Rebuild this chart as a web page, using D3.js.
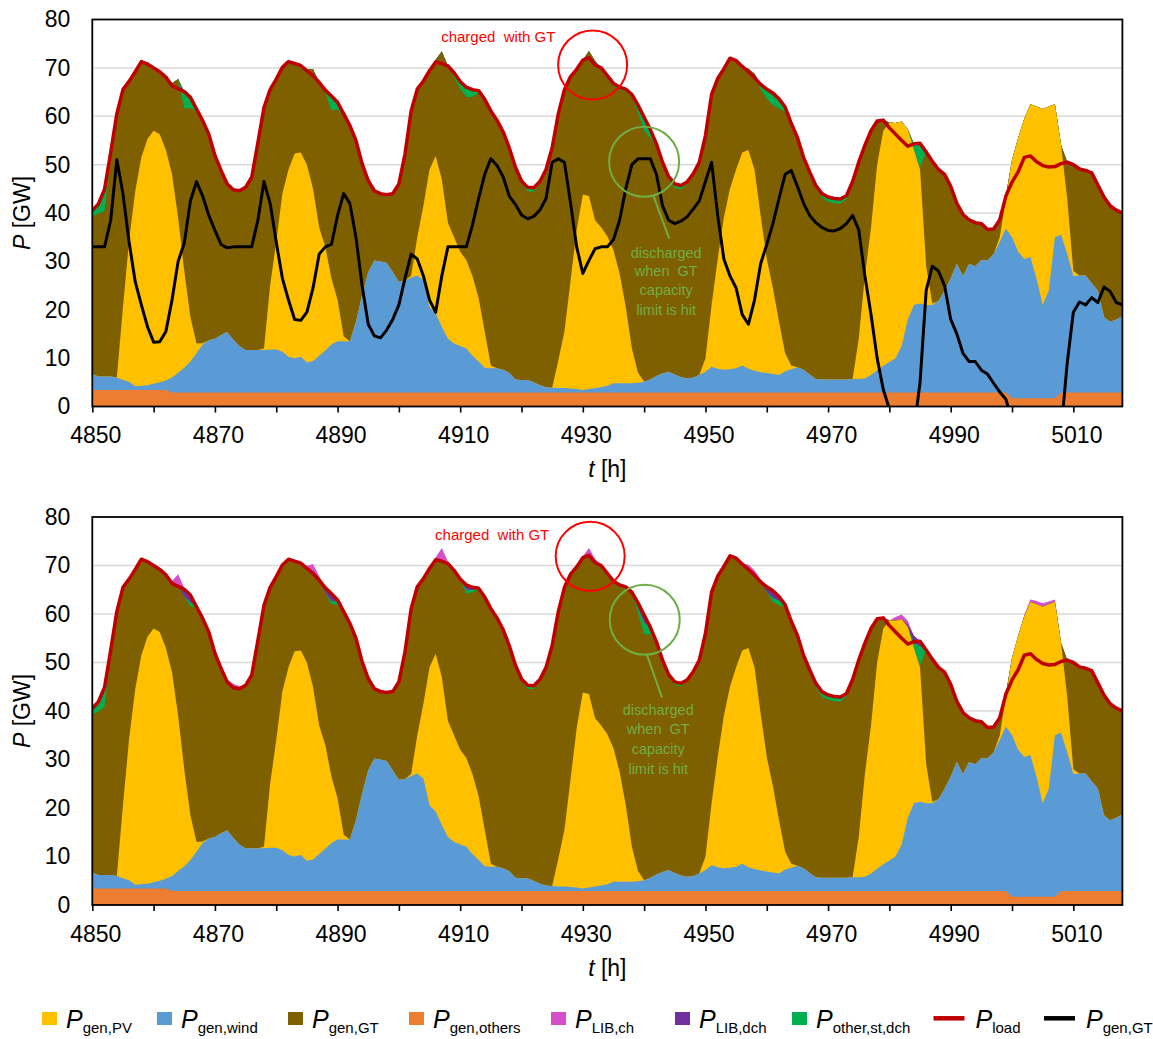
<!DOCTYPE html>
<html>
<head>
<meta charset="utf-8">
<title>Power balance, hours 4850-5018</title>
<script src="https://cdn.jsdelivr.net/npm/d3@7/dist/d3.min.js"></script>
<style>
  html, body { margin: 0; padding: 0; background: #fff; }
  svg { display: block; }
  text { font-family: "Liberation Sans", Arial, Helvetica, sans-serif; }
</style>
</head>
<body>
<svg id="chart" width="1153" height="1039"></svg>
<script>
// ---------------- categories and ticks ----------------
const HOURS = d3.range(4850, 5019);          // hourly time steps t [h]
const X_TICKS = d3.range(4850, 5019, 10);
const X_LABELS = d3.range(4850, 5011, 20);
const Y_TICKS = d3.range(0, 81, 10);

// ---------------- hourly series [GW] ----------------
const pLoad = [
  40.5, 41.9, 44.9, 52.5, 60.5, 65.5, 67.2, 69.2, 71.3, 70.8,
  70.0, 69.2, 68.1, 66.3, 65.7, 65.1, 63.9, 61.5, 59.1, 56.3,
  51.9, 48.8, 46.0, 44.8, 44.6, 45.3, 47.4, 54.5, 61.8, 65.5,
  67.7, 70.1, 71.3, 70.9, 70.5, 69.4, 68.4, 67.0, 65.4, 64.2,
  62.9, 60.5, 58.1, 55.0, 50.2, 46.7, 44.6, 44.0, 43.8, 44.0,
  46.0, 52.2, 61.1, 65.6, 67.3, 69.4, 71.2, 70.9, 70.4, 69.0,
  67.2, 66.0, 65.5, 65.3, 63.5, 61.1, 59.2, 56.8, 53.5, 49.5,
  46.6, 45.3, 45.2, 46.5, 49.0, 53.5, 60.5, 65.5, 68.2, 69.7,
  71.6, 72.1, 70.6, 70.0, 68.4, 66.8, 66.0, 65.6, 64.5, 62.3,
  59.8, 57.3, 54.3, 50.5, 47.5, 46.0, 45.7, 46.4, 48.1, 50.5,
  56.0, 64.5, 67.8, 69.8, 72.0, 71.5, 70.3, 69.2, 68.0, 66.6,
  65.6, 64.8, 63.6, 61.9, 58.5, 55.6, 51.5, 48.5, 45.7, 44.0,
  43.3, 43.0, 42.9, 43.6, 46.5, 50.5, 54.0, 57.0, 59.0, 59.2,
  57.6, 56.3, 55.0, 53.8, 54.3, 54.4, 52.6, 50.7, 49.0, 48.0,
  45.5, 42.0, 39.7, 38.6, 38.0, 37.8, 36.6, 36.7, 38.6, 43.5,
  46.4, 48.5, 51.5, 51.8, 50.6, 49.8, 49.5, 49.6, 50.2, 50.5,
  50.0, 49.1, 48.8, 48.3, 45.8, 43.3, 41.5, 40.6, 40.0
];

const pOthers = [
  3.4, 3.4, 3.4, 3.4, 3.4, 3.4, 3.4, 3.4, 3.4, 3.4,
  3.4, 3.4, 3.4, 2.9, 2.9, 2.9, 2.9, 2.9, 2.9, 2.9,
  2.9, 2.9, 2.9, 2.9, 2.9, 2.9, 2.9, 2.9, 2.9, 2.9,
  2.9, 2.9, 2.9, 2.9, 2.9, 2.9, 2.9, 2.9, 2.9, 2.9,
  2.9, 2.9, 2.9, 2.9, 2.9, 2.9, 2.9, 2.9, 2.9, 2.9,
  2.9, 2.9, 2.9, 2.9, 2.9, 2.9, 2.9, 2.9, 2.9, 2.9,
  2.9, 2.9, 2.9, 2.9, 2.9, 2.9, 2.9, 2.9, 2.9, 2.9,
  2.9, 2.9, 2.9, 2.9, 2.9, 2.9, 2.9, 2.9, 2.9, 2.9,
  2.9, 2.9, 2.9, 2.9, 2.9, 2.9, 2.9, 2.9, 2.9, 2.9,
  2.9, 2.9, 2.9, 2.9, 2.9, 2.9, 2.9, 2.9, 2.9, 2.9,
  2.9, 2.9, 2.9, 2.9, 2.9, 2.9, 2.9, 2.9, 2.9, 2.9,
  2.9, 2.9, 2.9, 2.9, 2.9, 2.9, 2.9, 2.9, 2.9, 2.9,
  2.9, 2.9, 2.9, 2.9, 2.9, 2.9, 2.9, 2.9, 2.9, 2.9,
  2.9, 2.9, 2.9, 2.9, 2.9, 2.9, 2.9, 2.9, 2.9, 2.9,
  2.9, 2.9, 2.9, 2.9, 2.9, 2.9, 2.9, 2.9, 2.9, 2.9,
  1.7, 1.7, 1.7, 1.7, 1.7, 1.7, 1.7, 1.7, 2.9, 2.9,
  2.9, 2.9, 2.9, 2.9, 2.9, 2.9, 2.9, 2.9, 2.9
];

const pWind = [
  3.3, 2.8, 2.8, 2.8, 2.6, 2.1, 1.7, 0.8, 0.9, 1.0,
  1.3, 1.6, 2.0, 3.1, 4.1, 5.1, 6.4, 8.1, 9.9, 10.8,
  11.1, 11.9, 12.5, 10.9, 9.6, 8.8, 8.8, 8.8, 8.8, 8.9,
  8.9, 8.4, 7.4, 7.1, 7.4, 6.2, 6.5, 7.6, 8.7, 9.9,
  10.6, 10.6, 10.6, 14.6, 20.1, 24.9, 27.3, 27.1, 26.8, 24.9,
  22.9, 23.1, 23.7, 24.2, 23.2, 17.6, 16.4, 13.6, 11.1, 10.1,
  9.6, 9.1, 7.6, 6.4, 5.1, 5.0, 5.0, 4.7, 4.1, 2.7,
  2.6, 2.6, 2.1, 1.5, 1.1, 1.0, 0.9, 0.9, 0.8, 0.7,
  0.5, 0.7, 0.9, 1.1, 1.4, 1.9, 1.9, 1.9, 1.9, 2.0,
  2.2, 2.7, 3.4, 3.9, 4.3, 3.7, 3.2, 2.9, 3.1, 3.6,
  4.3, 5.3, 4.9, 4.7, 4.8, 5.0, 5.6, 4.9, 4.5, 4.2,
  4.0, 3.8, 3.6, 4.4, 4.8, 5.2, 4.7, 3.7, 2.8, 2.7,
  2.7, 2.7, 2.7, 2.7, 2.8, 2.8, 2.9, 3.6, 4.6, 5.5,
  6.3, 7.1, 9.6, 15.1, 18.1, 18.4, 18.1, 18.1, 18.9, 21.1,
  23.6, 26.6, 24.1, 26.6, 26.1, 27.4, 27.3, 28.6, 31.1, 33.9,
  33.3, 30.3, 28.8, 29.2, 24.7, 19.3, 22.3, 33.3, 32.6, 28.6,
  24.1, 24.2, 24.2, 22.6, 21.1, 15.6, 14.6, 15.1, 15.8
];

const pPV = [
  0, 0, 0, 0, 0, 15.0, 29.2, 40.3, 47.2, 50.9,
  52.3, 51.3, 47.6, 42.0, 32.0, 20.0, 9.2, 2.0, 0.3, 0,
  0, 0, 0, 0, 0, 0, 0, 0, 0.3, 13.2,
  22.2, 32.7, 38.7, 42.3, 42.2, 40.9, 35.6, 26.5, 21.4, 13.7,
  8.5, 1.0, 0, 0, 0, 0, 0, 0, 0, 0,
  0, 0, 0.4, 7.9, 15.4, 28.5, 32.5, 30.5, 24.0, 22.0,
  19.5, 18.3, 16.5, 13.2, 7.5, 0.6, 0, 0, 0, 0,
  0, 0, 0, 0, 0, 0, 5.7, 11.7, 22.3, 32.9,
  40.4, 39.9, 34.7, 33.0, 30.9, 27.5, 22.7, 15.8, 7.2, 2.1,
  0, 0, 0, 0, 0, 0, 0, 0, 0, 0,
  2.8, 12.8, 22.7, 31.4, 37.3, 41.1, 44.0, 45.2, 41.6, 32.4,
  23.6, 17.8, 11.0, 3.7, 0.8, 0, 0, 0, 0, 0,
  0, 0, 0, 0, 0, 8.3, 21.2, 30.5, 42.5, 48.6,
  49.5, 48.6, 46.4, 39.3, 32.0, 27.7, 8.0, 0.3, 0, 0,
  0, 0, 0, 0, 0, 0, 0, 0, 1.0, 6.2,
  16.0, 23.5, 29.0, 31.6, 35.6, 40.5, 38.0, 27.5, 18.5, 11.5,
  1.0, 0, 0, 0, 0, 0, 0, 0, 0
];

// gas turbine output of the first case (negative values fall below the axis)
const pGenGT = [
  33.0, 33.0, 33.0, 38.5, 51.0, 44.0, 34.0, 25.8, 21.0, 16.5,
  13.3, 13.4, 15.5, 22.0, 30.0, 33.8, 42.5, 46.5, 43.5, 39.5,
  36.4, 33.5, 32.8, 33.0, 33.0, 33.0, 33.0, 38.5, 46.5, 42.0,
  34.0, 26.5, 22.0, 18.0, 17.8, 19.5, 24.5, 31.5, 33.0, 33.5,
  39.5, 44.0, 42.0, 35.0, 25.0, 17.0, 14.6, 14.2, 15.8, 18.0,
  21.0, 26.5, 31.5, 30.5, 27.0, 22.0, 19.5, 27.0, 33.0, 33.0,
  33.0, 33.0, 37.5, 43.0, 48.0, 51.2, 49.8, 47.5, 43.5, 41.8,
  39.6, 38.8, 39.3, 40.6, 43.0, 50.5, 51.2, 50.5, 42.0, 33.0,
  27.5, 30.2, 32.6, 33.0, 33.0, 34.5, 38.5, 45.0, 50.0, 51.2,
  51.2, 51.2, 48.0, 41.5, 38.5, 37.8, 38.3, 39.2, 40.8, 42.5,
  46.5, 50.5, 39.5, 30.5, 27.0, 24.5, 19.0, 17.0, 22.0, 29.5,
  33.5, 37.8, 43.0, 48.0, 48.8, 45.5, 42.0, 39.5, 38.0, 37.0,
  36.4, 36.3, 36.8, 37.8, 39.5, 36.5, 27.0, 19.0, 10.0, 3.5,
  -0.5, -3.0, -4.0, -4.5, -5.0, 5.0, 24.0, 29.0, 28.0, 25.0,
  18.0, 15.0, 11.0, 9.3, 9.3, 7.5, 6.7, 4.8, 3.0, 1.5,
  -3.0, -6.0, -8.0, -10.0, -11.0, -11.5, -12.0, -12.5, -5.0, 9.0,
  19.5, 21.6, 21.0, 22.5, 21.5, 24.7, 23.8, 21.5, 21.0
];

// ---------------- storage flows [hour, GW] (all other hours are zero) ----------------
// case 1: storage charged with gas turbine power, other storage discharge
const gtCharge1 = [[4863,0.5],[4864,2.0],[4885,0.3],[4886,1.3],[4906,0.5],[4907,2.5],
  [4931,1.4],[4932,0.8],[4957,0.6],[4958,0.8]];
const stDch1 = [[4850,1.2],[4851,2.0],[4852,4.5],[4853,1.0],[4854,0.5],[4855,0.3],
  [4865,3.5],[4866,2.2],[4867,0.5],[4868,0.3],[4869,0.3],
  [4876,0.5],[4877,0.4],[4878,0.3],
  [4888,0.5],[4889,3.0],[4890,1.5],[4891,0.5],[4892,0.3],
  [4901,0.3],[4902,0.3],
  [4909,1.0],[4910,1.5],[4911,2.0],[4912,1.5],[4913,0.5],[4914,0.3],[4915,0.3],[4916,0.3],[4917,0.3],
  [4920,0.5],[4921,0.8],[4922,0.8],[4923,0.5],[4926,0.3],[4927,0.3],
  [4933,0.5],[4934,0.5],[4935,0.5],[4936,0.5],[4937,0.5],
  [4938,0.6],[4939,1.5],[4940,2.8],[4941,1.8],[4942,0.4],
  [4944,0.5],[4945,0.8],[4946,0.8],[4947,0.5],[4951,0.3],[4952,0.3],
  [4959,1.0],[4960,2.0],[4961,2.5],[4962,2.0],[4963,1.0],[4964,0.5],[4965,0.3],[4966,0.3],
  [4968,0.5],[4969,0.8],[4970,1.0],[4971,1.0],[4972,1.0],[4973,0.7],[4974,0.3],
  [4984,1.3],[4985,5.0]];

// case 2: lithium-ion battery charge / discharge, other storage discharge
const libCh2 = [[4863,0.5],[4864,2.5],[4865,0.3],[4872,0.5],[4873,0.8],[4874,0.5],
  [4885,0.5],[4886,1.9],[4887,0.8],[4906,0.5],[4907,2.7],[4908,0.4],
  [4930,0.3],[4931,1.5],[4932,0.8],[4957,1.0],[4958,1.0],[4959,0.5],
  [4981,0.8],[4982,1.0],[4983,0.8],
  [5002,0.3],[5003,0.5],[5004,0.7],[5005,0.7],[5006,0.6],[5007,0.5]];
const libDch2 = [[4865,1.5],[4866,1.5],[4888,1.0],[4889,1.5],[4890,0.3],[4911,1.0],[4912,0.5],
  [4939,1.0],[4940,1.5],[4960,1.0],[4961,1.5],[4962,0.8],[4983,0.5],[4984,1.5],[4985,1.0]];
const stDch2 = [[4850,1.2],[4851,2.0],[4852,4.0],[4853,0.8],[4854,0.4],[4855,0.3],
  [4866,0.8],[4867,0.3],[4876,0.5],[4877,0.3],[4889,0.7],[4890,0.7],
  [4911,0.8],[4912,0.5],[4913,0.3],[4914,0.3],[4915,0.3],[4916,0.3],[4917,0.3],
  [4920,0.5],[4921,0.7],[4922,0.7],[4923,0.4],[4926,0.3],[4927,0.3],
  [4933,0.4],[4934,0.4],[4935,0.4],[4936,0.4],[4937,0.4],
  [4939,1.0],[4940,2.5],[4941,1.5],[4944,0.5],[4945,0.6],[4946,0.6],[4947,0.4],
  [4961,0.8],[4962,1.0],[4963,0.4],
  [4968,0.8],[4969,1.0],[4970,1.0],[4971,1.0],[4972,1.0],[4973,0.6],
  [4984,1.0],[4985,4.0]];

// ---------------- styling ----------------
const KEYS = ['others', 'wind', 'pv', 'gt', 'stDch', 'libDch', 'libCh'];
const COLORS = {
  pv: '#FFC000', wind: '#5B9BD5', gt: '#7F6000', others: '#ED7D31',
  libCh: '#D54FC8', libDch: '#7030A0', stDch: '#00B050',
  load: '#C00000', gtLine: '#000000'
};
const FONT = 23;

const dense = pairs => {
  const m = new Map(pairs);
  return HOURS.map(h => m.get(h) || 0);
};

const svg = d3.select('#chart');
const x = d3.scaleLinear().domain([4850, 5018]).range([92.3, 1122.4]);

const panels = [
  {
    id: 'case1', top: 19.5, bottom: 406.5,
    gtCharge: dense(gtCharge1), stDch: dense(stDch1), libDch: dense([]), libCh: dense([]),
    showGT: true,
    note: {
      charged: [4906.9, 75.4],
      red: [4931.6, 70.6], green: [4940.0, 50.6],
      lead: [[4941.5, 43.6], [4944.1, 34.7]],
      text: [4943.6, [30.8, 27.0, 23.0, 18.9]]
    }
  },
  {
    id: 'case2', top: 517, bottom: 905,
    gtCharge: dense([]), stDch: dense(stDch2), libDch: dense(libDch2), libCh: dense(libCh2),
    showGT: false,
    note: {
      charged: [4905.9, 75.3],
      red: [4931.2, 71.9], green: [4940.1, 58.8],
      lead: [[4940.4, 51.8], [4942.9, 42.8]],
      text: [4942.3, [39.1, 35.3, 31.2, 27.1]]
    }
  }
];

panels.forEach(p => {
  const y = d3.scaleLinear().domain([0, 80]).range([p.bottom, p.top]);
  const g = svg.append('g').attr('class', p.id);
  const x0 = x(4850), x1 = x(5018);

  g.append('clipPath').attr('id', 'clip-' + p.id)
    .append('rect').attr('x', x0).attr('y', p.top)
    .attr('width', x1 - x0).attr('height', p.bottom - p.top);

  // horizontal gridlines
  g.append('g').selectAll('line')
    .data(Y_TICKS.filter(v => v > 0 && v < 80)).join('line')
    .attr('x1', x0).attr('x2', x1)
    .attr('y1', d => y(d)).attr('y2', d => y(d))
    .attr('stroke', '#D9D9D9').attr('stroke-width', 1.5);

  // stacked generation / storage layers
  const rows = HOURS.map((h, i) => {
    const base = pOthers[i] + pWind[i] + pPV[i];
    const gt = Math.max(0, pLoad[i] + p.gtCharge[i] - base - p.stDch[i] - p.libDch[i]);
    return {
      hour: h, others: pOthers[i], wind: pWind[i], pv: pPV[i], gt,
      stDch: p.stDch[i], libDch: p.libDch[i], libCh: p.libCh[i]
    };
  });
  const series = d3.stack().keys(KEYS)(rows);
  const area = d3.area()
    .x(d => x(d.data.hour))
    .y0(y(0))
    .y1(d => y(d[1]));
  g.append('g').attr('clip-path', `url(#clip-${p.id})`)
    .selectAll('path').data(series.slice().reverse()).join('path')
    .attr('d', area)
    .attr('fill', d => COLORS[d.key]);

  const lineLayer = g.append('g').attr('clip-path', `url(#clip-${p.id})`);
  if (p.showGT) {
    lineLayer.append('path')
      .datum(HOURS.map((h, i) => [h, pGenGT[i]]))
      .attr('d', d3.line().x(d => x(d[0])).y(d => y(d[1])))
      .attr('fill', 'none').attr('stroke', COLORS.gtLine)
      .attr('stroke-width', 3).attr('stroke-linejoin', 'round');
  }
  lineLayer.append('path')
    .datum(HOURS.map((h, i) => [h, pLoad[i]]))
    .attr('d', d3.line().x(d => x(d[0])).y(d => y(d[1])))
    .attr('fill', 'none').attr('stroke', COLORS.load)
    .attr('stroke-width', 3.5).attr('stroke-linejoin', 'round');

  // plot frame
  g.append('rect').attr('x', x0).attr('y', p.top)
    .attr('width', x1 - x0).attr('height', p.bottom - p.top)
    .attr('fill', 'none').attr('stroke', '#000').attr('stroke-width', 1.8);

  // x axis
  const xAxis = d3.axisBottom(x)
    .tickValues(X_TICKS)
    .tickFormat(d => X_LABELS.includes(d) ? String(d) : '')
    .tickSize(6).tickSizeOuter(0).tickPadding(14.5);
  const gx = g.append('g').attr('transform', `translate(0,${p.bottom})`).call(xAxis);
  gx.select('.domain').remove();
  gx.selectAll('line').attr('stroke', '#000').attr('stroke-width', 1.6);
  gx.selectAll('text').attr('font-size', FONT).attr('fill', '#000')
    .attr('font-family', '"Liberation Sans", Arial, sans-serif').attr('dx', 3);

  // y axis
  const yAxis = d3.axisLeft(y).tickValues(Y_TICKS).tickSize(0).tickPadding(22);
  const gy = g.append('g').attr('transform', `translate(${x0},0)`).call(yAxis);
  gy.select('.domain').remove();
  gy.selectAll('text').attr('font-size', FONT).attr('fill', '#000')
    .attr('font-family', '"Liberation Sans", Arial, sans-serif');

  // axis titles
  const xt = g.append('text').attr('x', (x0 + x1) / 2).attr('y', p.bottom + 70.5)
    .attr('text-anchor', 'middle').attr('font-size', FONT).attr('fill', '#000');
  xt.append('tspan').attr('font-style', 'italic').text('t');
  xt.append('tspan').text(' [h]');

  const ymid = (p.top + p.bottom) / 2;
  const yt = g.append('text').attr('transform', `translate(30,${ymid}) rotate(-90)`)
    .attr('text-anchor', 'middle').attr('font-size', FONT).attr('fill', '#000');
  yt.append('tspan').attr('font-style', 'italic').text('P');
  yt.append('tspan').text(' [GW]');

  // annotations
  const n = p.note;
  g.append('text').attr('x', x(n.charged[0])).attr('y', y(n.charged[1]))
    .attr('font-size', 15).attr('fill', '#FF0000').style('white-space', 'pre')
    .text('charged  with GT');
  g.append('circle').attr('cx', x(n.red[0])).attr('cy', y(n.red[1])).attr('r', 34.5)
    .attr('fill', 'none').attr('stroke', '#FF0000').attr('stroke-width', 2);
  g.append('circle').attr('cx', x(n.green[0])).attr('cy', y(n.green[1])).attr('r', 35)
    .attr('fill', 'none').attr('stroke', '#70AD47').attr('stroke-width', 2);
  g.append('line')
    .attr('x1', x(n.lead[0][0])).attr('y1', y(n.lead[0][1]))
    .attr('x2', x(n.lead[1][0])).attr('y2', y(n.lead[1][1]))
    .attr('stroke', '#70AD47').attr('stroke-width', 2);
  const lines = ['discharged', 'when  GT', 'capacity', 'limit is hit'];
  g.append('g').selectAll('text').data(lines).join('text')
    .attr('x', x(n.text[0])).attr('y', (d, i) => y(n.text[1][i]))
    .attr('text-anchor', 'middle').attr('font-size', 14.5).attr('fill', '#70AD47')
    .style('white-space', 'pre')
    .text(d => d);
});

// ---------------- legend ----------------
const legendItems = [
  { key: 'pv', kind: 'rect', sub: 'gen,PV', x: 42 },
  { key: 'wind', kind: 'rect', sub: 'gen,wind', x: 157 },
  { key: 'gt', kind: 'rect', sub: 'gen,GT', x: 288 },
  { key: 'others', kind: 'rect', sub: 'gen,others', x: 409 },
  { key: 'libCh', kind: 'rect', sub: 'LIB,ch', x: 551 },
  { key: 'libDch', kind: 'rect', sub: 'LIB,dch', x: 675 },
  { key: 'stDch', kind: 'rect', sub: 'other,st,dch', x: 792 },
  { key: 'load', kind: 'line', sub: 'load', x: 933.5 },
  { key: 'gtLine', kind: 'line', sub: 'gen,GT', x: 1044 }
];
const lg = svg.append('g').attr('class', 'legend');
legendItems.forEach(it => {
  let tx;
  if (it.kind === 'rect') {
    lg.append('rect').attr('x', it.x).attr('y', 1012).attr('width', 15).attr('height', 13)
      .attr('fill', COLORS[it.key]);
    tx = it.x + 24;
  } else {
    lg.append('line').attr('x1', it.x).attr('x2', it.x + 31).attr('y1', 1018.3).attr('y2', 1018.3)
      .attr('stroke', COLORS[it.key]).attr('stroke-width', 4.5);
    tx = it.x + 42;
  }
  const t = lg.append('text').attr('x', tx).attr('y', 1028).attr('fill', '#000');
  t.append('tspan').attr('font-style', 'italic').attr('font-size', 25).text('P');
  t.append('tspan').attr('font-size', 15).attr('dy', 5).text(it.sub);
});
</script>
</body>
</html>
